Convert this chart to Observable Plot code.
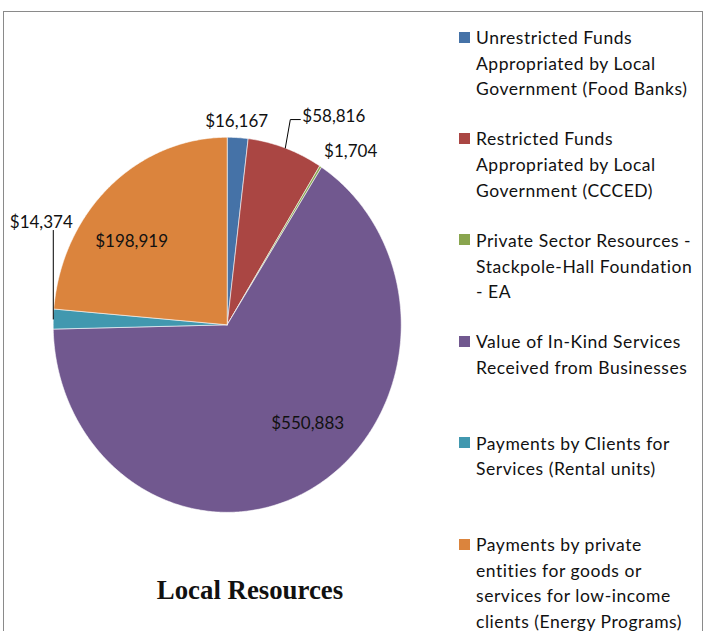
<!DOCTYPE html>
<html><head><meta charset="utf-8">
<script src="https://cdn.jsdelivr.net/npm/d3@7"></script>
<script src="https://cdn.jsdelivr.net/npm/@observablehq/plot@0.6"></script>
<style>
body{margin:0;background:#fff;}
#wrap{position:relative;width:709px;height:631px;overflow:hidden;font-family:Lato,sans-serif;color:#111;}
#border{position:absolute;left:3px;top:11px;width:698px;height:700px;border:1px solid #8a8a8a;}
#chart{position:absolute;left:0;top:0;}
.leg{position:absolute;left:476px;font-size:17.5px;letter-spacing:0.55px;line-height:25.7px;white-space:pre;}
.sw{position:absolute;left:459px;width:11px;height:11px;}
#title{position:absolute;left:0;width:500px;top:575px;line-height:30px;text-align:center;font:bold 26.8px "Liberation Serif",serif;}
</style></head>
<body><div id="wrap"><div id="border"></div><div id="chart"></div><div id="legend"></div><div id="title"></div></div>
<script>
const categories = [
  "Unrestricted Funds\nAppropriated by Local\nGovernment (Food Banks)",
  "Restricted Funds\nAppropriated by Local\nGovernment (CCCED)",
  "Private Sector Resources -\nStackpole-Hall Foundation\n- EA",
  "Value of In-Kind Services\nReceived from Businesses",
  "Payments by Clients for\nServices (Rental units)",
  "Payments by private\nentities for goods or\nservices for low-income\nclients (Energy Programs)"
];
const values = [16167, 58816, 1704, 550883, 14374, 198919];
const colors = ["#4572A7", "#AA4643", "#89A54E", "#71588F", "#4198AF", "#DB843D"];
const title = "Local Resources";

// layout (pixels)
const cx = 226.7, cy = 324.3, rx = 174, ry = 187.5;
const labelLayout = [
  {r: 1.09, anchor: "middle", dx: -2, dy: 1},
  {anchor: "start", leader: [[0, 0], [5, -28.5], [15, -28.5]], dx: 2, dy: -3},
  {r: 1.08, anchor: "start", dx: -4, dy: -2},
  {r: 0.70, anchor: "middle", dx: 21, dy: -16},
  {anchor: "middle", leader: [[0, 0], [0, -88.6]], dx: -12, dy: -8},
  {r: 0.71, anchor: "middle", dx: -12, dy: 15}
];

const rows = categories.map((c, i) => ({name: c, value: values[i], i}));
const arcs = d3.pie().sort(null).value(d => d.value)(rows);
const pts = [];
for (const a of arcs) {
  const n = Math.max(2, Math.ceil((a.endAngle - a.startAngle) / (Math.PI / 360)));
  pts.push({name: a.data.name, x: 0, y: 0});
  for (let k = 0; k <= n; k++) {
    const t = a.startAngle + (a.endAngle - a.startAngle) * k / n;
    pts.push({name: a.data.name, x: Math.sin(t), y: Math.cos(t)});
  }
  pts.push({name: a.data.name, x: 0, y: 0});
}
const fmt = d3.format("$,");
const labels = [], leaders = [];
arcs.forEach((a, i) => {
  const L = labelLayout[i];
  const mid = (a.startAngle + a.endAngle) / 2;
  let x, y;
  if (L.leader) {
    const ex = Math.sin(mid), ey = Math.cos(mid);
    L.leader.forEach(([ox, oy]) => {
      leaders.push({i, x: ex + ox / rx, y: ey - oy / ry});
    });
    const last = L.leader[L.leader.length - 1];
    x = ex + last[0] / rx; y = ey - last[1] / ry;
  } else {
    x = L.r * Math.sin(mid); y = L.r * Math.cos(mid);
  }
  labels.push({text: fmt(a.data.value), x: x + L.dx / rx, y: y - L.dy / ry, anchor: L.anchor});
});

const chart = Plot.plot({
  width: 709, height: 631, margin: 0,
  style: {background: "transparent", fontFamily: "Lato, sans-serif"},
  x: {domain: [-1, 1], range: [cx - rx, cx + rx], axis: null},
  y: {domain: [-1, 1], range: [cy + ry, cy - ry], axis: null},
  color: {domain: categories, range: colors},
  marks: [
    Plot.line(pts, {x: "x", y: "y", z: "name", fill: "name", stroke: "#fff", strokeWidth: 0.7, strokeOpacity: 0.8, curve: "linear"}),
    Plot.line(leaders, {x: "x", y: "y", z: "i", stroke: "#000", strokeWidth: 1}),
    Plot.text(labels.filter(d => d.anchor === "middle"), {x: "x", y: "y", text: "text", textAnchor: "middle", fontSize: 17, fill: "#111"}),
    Plot.text(labels.filter(d => d.anchor === "start"), {x: "x", y: "y", text: "text", textAnchor: "start", fontSize: 17, fill: "#111"})
  ]
});
document.getElementById("chart").append(chart);

const legend = document.getElementById("legend");
categories.forEach((c, i) => {
  const top = 25 + i * 101.4;
  const t = document.createElement("div");
  t.className = "leg"; t.style.top = top + "px"; t.textContent = c;
  const s = document.createElement("div");
  s.className = "sw"; s.style.top = (top + 6.5) + "px"; s.style.background = colors[i];
  legend.append(s, t);
});
document.getElementById("title").textContent = title;
</script>
</body></html>
